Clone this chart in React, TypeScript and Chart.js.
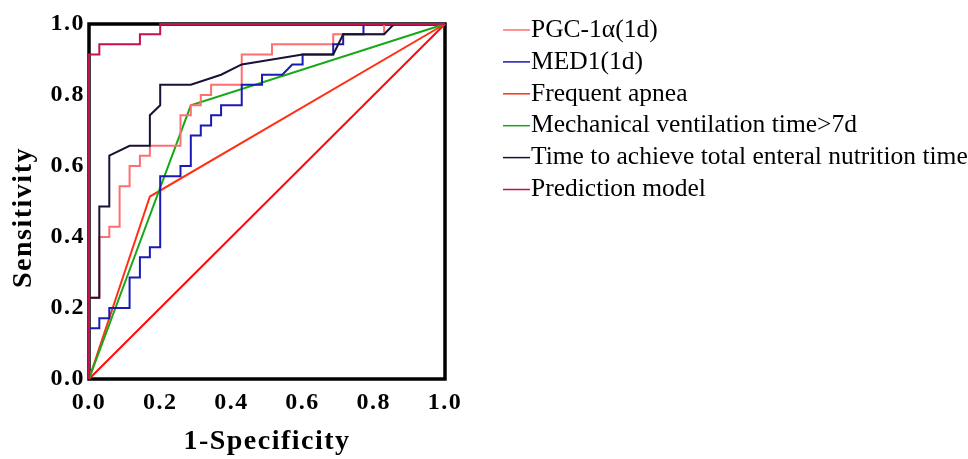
import React, { useEffect, useRef } from "react";
import { Chart, registerables } from "chart.js";

Chart.register(...registerables);

// ---- data ----
const xTickValues = [0, 0.2, 0.4, 0.6, 0.8, 1.0];

const seriesNames = [
  "PGC-1α(1d)",
  "MED1(1d)",
  "Frequent apnea",
  "Mechanical ventilation time>7d",
  "Time to achieve total enteral nutrition time",
  "Prediction model",
];
const seriesColors = ["#FF6F6F", "#1A1AB4", "#FF3014", "#16A816", "#1B1134", "#C4134C"];
const drawOrder = [3, 2, 5, 4, 1, 0];

const pgcFpr = [0, 0, 0.029, 0.029, 0.057, 0.057, 0.086, 0.086, 0.114, 0.114, 0.143, 0.143, 0.171, 0.171, 0.257, 0.257, 0.286, 0.286, 0.314, 0.314, 0.343, 0.343, 0.429, 0.429, 0.514, 0.514, 0.686, 0.686, 0.829, 0.829, 1];
const pgcTpr = [0, 0.229, 0.229, 0.4, 0.4, 0.429, 0.429, 0.543, 0.543, 0.6, 0.6, 0.629, 0.629, 0.657, 0.657, 0.743, 0.743, 0.771, 0.771, 0.8, 0.8, 0.829, 0.829, 0.914, 0.914, 0.943, 0.943, 0.971, 0.971, 1, 1];

const med1Fpr = [0, 0, 0.029, 0.029, 0.057, 0.057, 0.114, 0.114, 0.143, 0.143, 0.171, 0.171, 0.2, 0.2, 0.257, 0.257, 0.286, 0.286, 0.314, 0.314, 0.343, 0.343, 0.371, 0.371, 0.429, 0.429, 0.486, 0.486, 0.543, 0.571, 0.6, 0.6, 0.686, 0.686, 0.714, 0.714, 0.771, 0.771, 1];
const med1Tpr = [0, 0.143, 0.143, 0.171, 0.171, 0.2, 0.2, 0.286, 0.286, 0.343, 0.343, 0.371, 0.371, 0.571, 0.571, 0.6, 0.6, 0.686, 0.686, 0.714, 0.714, 0.743, 0.743, 0.771, 0.771, 0.829, 0.829, 0.857, 0.857, 0.886, 0.886, 0.914, 0.914, 0.943, 0.943, 0.971, 0.971, 1, 1];

const apneaFpr = [0, 0.171, 1];
const apneaTpr = [0, 0.514, 1];

const ventFpr = [0, 0.286, 1];
const ventTpr = [0, 0.771, 1];

const enteralFpr = [0, 0, 0.029, 0.029, 0.057, 0.057, 0.114, 0.171, 0.171, 0.2, 0.2, 0.286, 0.371, 0.429, 0.6, 0.686, 0.714, 0.829, 0.857, 1];
const enteralTpr = [0, 0.229, 0.229, 0.486, 0.486, 0.629, 0.657, 0.657, 0.743, 0.771, 0.829, 0.829, 0.857, 0.886, 0.914, 0.914, 0.971, 0.971, 1, 1];

const modelFpr = [0, 0, 0.029, 0.029, 0.143, 0.143, 0.2, 0.2, 1];
const modelTpr = [0, 0.914, 0.914, 0.943, 0.943, 0.971, 0.971, 1, 1];

const refFpr = [0, 1];
const refTpr = [0, 1];
const refColor = "#FF0A0A";

const xTitle = "1-Specificity";
const yTitle = "Sensitivity";

const toPoints = (xs: number[], ys: number[]) => xs.map((x, i) => ({ x, y: ys[i] }));

const seriesFpr = [pgcFpr, med1Fpr, apneaFpr, ventFpr, enteralFpr, modelFpr];
const seriesTpr = [pgcTpr, med1Tpr, apneaTpr, ventTpr, enteralTpr, modelTpr];

const SERIF = "'Liberation Serif', 'Times New Roman', serif";

export default function App() {
  const canvasRef = useRef<HTMLCanvasElement | null>(null);

  useEffect(() => {
    document.body.style.margin = "0";
    const canvas = canvasRef.current;
    if (!canvas) return;

    const datasets: any[] = seriesNames.map((name, i) => ({
      label: name,
      data: toPoints(seriesFpr[i], seriesTpr[i]),
      borderColor: seriesColors[i],
      backgroundColor: seriesColors[i],
      borderWidth: 2,
      showLine: true,
      pointRadius: 0,
      tension: 0,
      fill: false,
      clip: 6,
      order: drawOrder[i],
    }));
    datasets.push({
      label: "reference",
      data: toPoints(refFpr, refTpr),
      borderColor: refColor,
      backgroundColor: refColor,
      borderWidth: 2,
      showLine: true,
      pointRadius: 0,
      fill: false,
      clip: 6,
      order: 10,
    });

    const spacingPlugin = {
      id: "spacing",
      beforeDraw(chart: any) {
        (chart.ctx as any).letterSpacing = "1.5px";
      },
      beforeDatasetsDraw(chart: any) {
        const ctx = chart.ctx;
        (ctx as any).letterSpacing = "0px";
        const a = chart.chartArea;
        ctx.save();
        ctx.strokeStyle = "#000";
        ctx.lineWidth = 3.5;
        ctx.strokeRect(a.left, a.top, a.right - a.left, a.bottom - a.top);
        ctx.restore();
      },
      afterDraw(chart: any) {
        const ctx = chart.ctx;
        const a = chart.chartArea;
        // y axis title
        ctx.save();
        (ctx as any).letterSpacing = "1.5px";
        ctx.font = `bold 28px ${SERIF}`;
        ctx.fillStyle = "#000";
        ctx.textAlign = "center";
        ctx.textBaseline = "alphabetic";
        ctx.translate(31, (a.top + a.bottom) / 2 + 16);
        ctx.rotate(-Math.PI / 2);
        ctx.fillText(yTitle, 0, 0);
        ctx.restore();

        // legend
        ctx.save();
        (ctx as any).letterSpacing = "0px";
        ctx.font = `25.5px ${SERIF}`;
        ctx.textAlign = "left";
        ctx.textBaseline = "middle";
        const x0 = a.right + 58;
        seriesNames.forEach((name, i) => {
          const y = 30 + i * 31.9;
          ctx.strokeStyle = seriesColors[i];
          ctx.lineWidth = 1.5;
          ctx.beginPath();
          ctx.moveTo(x0, y);
          ctx.lineTo(x0 + 27, y);
          ctx.stroke();
          ctx.fillStyle = "#000";
          ctx.fillText(name, x0 + 28, y);
        });
        ctx.restore();
      },
    };

    const tickFont = { family: SERIF, size: 24, weight: "bold" as const };

    const chart = new Chart(canvas, {
      type: "scatter",
      data: { datasets },
      options: {
        animation: false,
        responsive: false,
        devicePixelRatio: 1,
        layout: { padding: { left: 0, top: 24, right: 523, bottom: 0 } },
        plugins: {
          legend: { display: false },
          tooltip: { enabled: false },
        },
        scales: {
          x: {
            type: "linear",
            min: 0,
            max: 1,
            afterBuildTicks: (s: any) => {
              s.ticks = xTickValues.map((v) => ({ value: v }));
            },
            afterFit: (s: any) => {
              s.height = 80;
            },
            grid: { display: false, drawTicks: false },
            border: { display: false },
            ticks: {
              color: "#000",
              font: tickFont,
              padding: 9,
              maxRotation: 0,
              autoSkip: false,
              callback: (v: any) => Number(v).toFixed(1),
            },
            title: {
              display: true,
              text: xTitle,
              color: "#000",
              font: { family: SERIF, size: 28, weight: "bold" },
              padding: { top: 0, bottom: 0 },
            },
          },
          y: {
            type: "linear",
            min: 0,
            max: 1,
            afterBuildTicks: (s: any) => {
              s.ticks = xTickValues.map((v) => ({ value: v }));
            },
            afterFit: (s: any) => {
              s.width = 89;
            },
            grid: { display: false, drawTicks: false },
            border: { display: false },
            ticks: {
              color: "#000",
              font: tickFont,
              padding: 4,
              autoSkip: false,
              callback: (v: any) => Number(v).toFixed(1),
            },
          },
        },
      },
      plugins: [spacingPlugin],
    });

    return () => {
      chart.destroy();
    };
  }, []);

  return (
    <div style={{ width: 968, height: 459, position: "relative" }}>
      <canvas ref={canvasRef} width={968} height={459} style={{ display: "block" }} />
    </div>
  );
}
